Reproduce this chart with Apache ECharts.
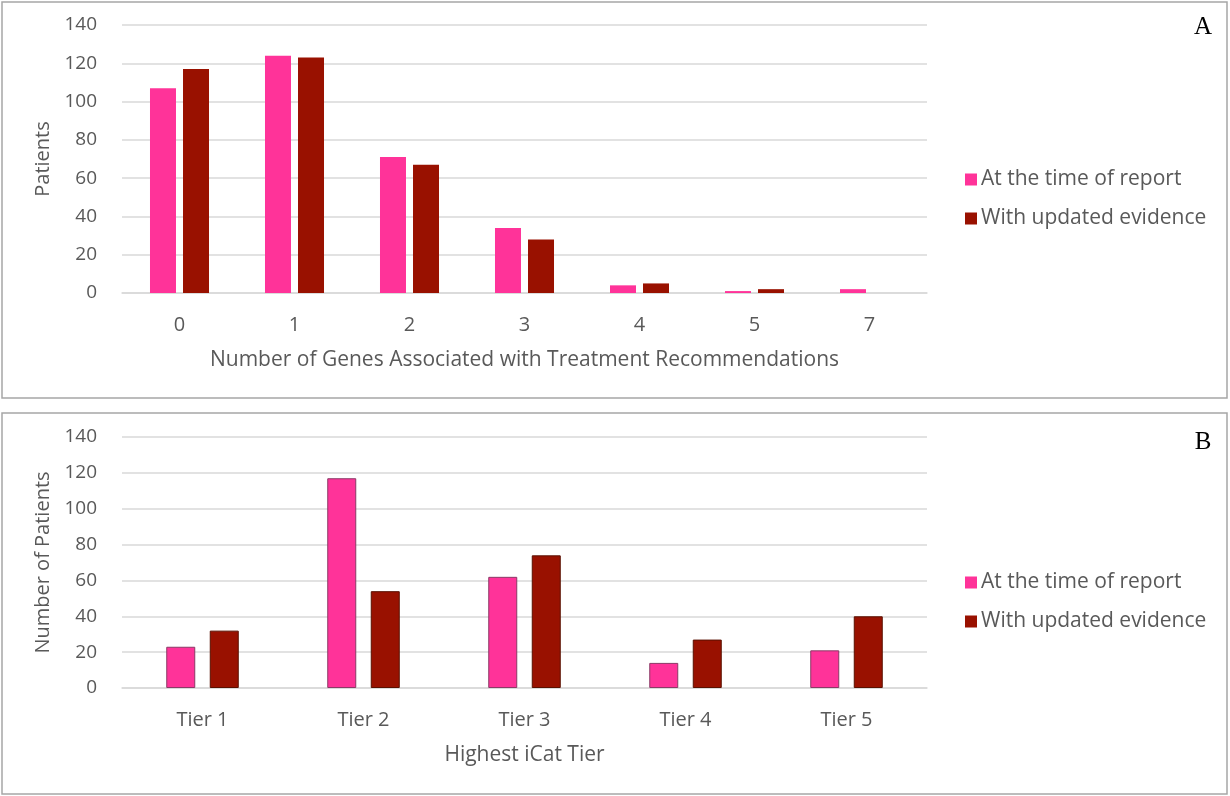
<!DOCTYPE html>
<html>
<head>
<meta charset="utf-8">
<script src="https://cdn.jsdelivr.net/npm/echarts@6/dist/echarts.min.js"></script>
<style>html,body{margin:0;padding:0;background:#fff}#c{width:1230px;height:796px}</style>
</head>
<body>
<div id="c"></div>
<script>
const catsA = ['0', '1', '2', '3', '4', '5', '7'];
const reportA = [107, 124, 71, 34, 4, 1, 2];
const updatedA = [117, 123, 67, 28, 5, 2, 0];

const catsB = ['Tier 1', 'Tier 2', 'Tier 3', 'Tier 4', 'Tier 5'];
const reportB = [23, 117, 62, 14, 21];
const updatedB = [32, 54, 74, 27, 40];

const seriesNames = ['At the time of report', 'With updated evidence'];
const yTicks = { min: 0, max: 140, interval: 20 };

const PINK = '#FF3399', DARK = '#991100';
const FONT = 'Open Sans';
const GRAY = '#595959';
const GRID = '#d9d9d9';

const chart = echarts.init(document.getElementById('c'));

function xAx(idx, cats, name) {
  return {
    type: 'category', gridIndex: idx, data: cats,
    axisTick: { show: false },
    axisLine: { lineStyle: { color: GRID, width: 1.5 } },
    axisLabel: { color: GRAY, fontFamily: FONT, fontSize: 20, margin: 22 },
    name: name, nameLocation: 'middle', nameGap: 57,
    nameTextStyle: { color: GRAY, fontFamily: FONT, fontSize: 21 }
  };
}
function yAx(idx, name) {
  return {
    type: 'value', gridIndex: idx, min: yTicks.min, max: yTicks.max, interval: yTicks.interval,
    axisLine: { show: false }, axisTick: { show: false },
    splitLine: { lineStyle: { color: GRID, width: 1.5 } },
    axisLabel: { color: GRAY, fontFamily: FONT, fontSize: 19, margin: 25 },
    name: name, nameLocation: 'middle', nameGap: 68,
    nameTextStyle: { color: GRAY, fontFamily: FONT, fontSize: 20 }
  };
}
function legend(top) {
  return {
    orient: 'vertical', left: 960, top: top, data: seriesNames,
    icon: 'rect', itemWidth: 12, itemHeight: 12, itemGap: 18,
    textStyle: { color: GRAY, fontFamily: FONT, fontSize: 21, padding: [0, 0, 0, -1] },
    selectedMode: false
  };
}

chart.setOption({
  animation: false,
  grid: [
    { left: 122, right: 303, top: 25, height: 268 },
    { left: 122, right: 303, top: 437, height: 251 }
  ],
  xAxis: [
    xAx(0, catsA, 'Number of Genes Associated with Treatment Recommendations'),
    xAx(1, catsB, 'Highest iCat Tier')
  ],
  yAxis: [yAx(0, 'Patients'), yAx(1, 'Number of Patients')],
  legend: [legend(164), legend(567)],
  graphic: [
    { type: 'rect', shape: { x: 2, y: 2, width: 1225, height: 396 }, style: { fill: 'none', stroke: '#a6a6a6', lineWidth: 1.5 } },
    { type: 'rect', shape: { x: 2, y: 413, width: 1225, height: 381 }, style: { fill: 'none', stroke: '#a6a6a6', lineWidth: 1.5 } },
    { type: 'text', x: 1203, y: 27, style: { text: 'A', font: '25px "Liberation Serif"', fill: '#000', align: 'center', verticalAlign: 'middle' } },
    { type: 'text', x: 1203, y: 442, style: { text: 'B', font: '25px "Liberation Serif"', fill: '#000', align: 'center', verticalAlign: 'middle' } }
  ],
  series: [
    { name: seriesNames[0], type: 'bar', xAxisIndex: 0, yAxisIndex: 0, data: reportA, barWidth: 26, barGap: '27%',
      itemStyle: { color: PINK } },
    { name: seriesNames[1], type: 'bar', xAxisIndex: 0, yAxisIndex: 0, data: updatedA, barWidth: 26, barGap: '27%',
      itemStyle: { color: DARK } },
    { name: seriesNames[0], type: 'bar', xAxisIndex: 1, yAxisIndex: 1, data: reportB, barWidth: 29, barGap: '50%',
      itemStyle: { color: PINK, borderColor: '#8a3a66', borderWidth: 1 } },
    { name: seriesNames[1], type: 'bar', xAxisIndex: 1, yAxisIndex: 1, data: updatedB, barWidth: 29, barGap: '50%',
      itemStyle: { color: DARK, borderColor: '#5a1000', borderWidth: 1 } }
  ]
});
</script>
</body>
</html>
